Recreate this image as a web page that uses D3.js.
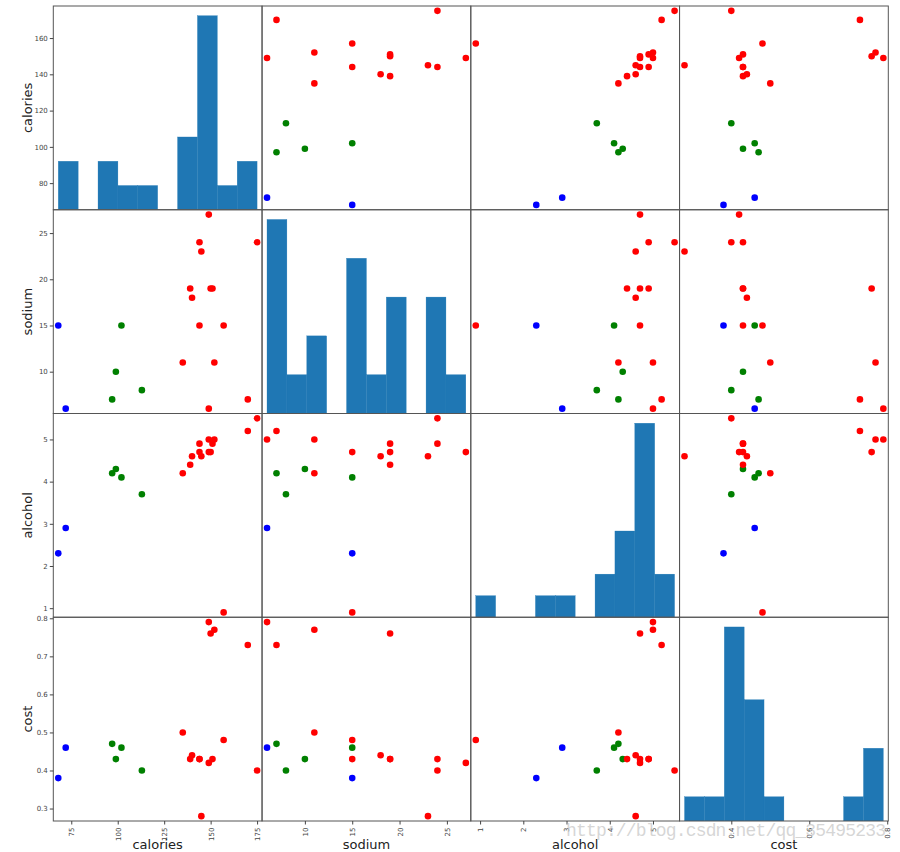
<!DOCTYPE html>
<html>
<head>
<meta charset="utf-8">
<script src="https://cdn.jsdelivr.net/npm/d3@7"></script>
<style>
  html, body { margin: 0; padding: 0; background: #fff; }
  svg { display: block; }
  .tick text { font-family: "DejaVu Sans", sans-serif; font-size: 7px; fill: #444; }
  .tick line { stroke: #444; }
  .domain { display: none; }
</style>
</head>
<body>
<svg id="chart" width="900" height="852"></svg>
<script>
// ---- data (beer dataset, 3 k-means clusters) ----
const columns = ["calories", "sodium", "alcohol", "cost"];
const calories = [144, 151, 157, 170, 152, 145, 175, 149, 99, 113, 140, 102, 135, 150, 149, 68, 139, 144, 72, 97];
const sodium   = [15, 19, 15, 7, 11, 23, 24, 27, 10, 8, 18, 15, 11, 19, 6, 15, 19, 24, 6, 7];
const alcohol  = [4.7, 4.9, 0.9, 5.2, 5.0, 4.6, 5.5, 4.7, 4.3, 3.7, 4.6, 4.1, 4.2, 4.7, 5.0, 2.3, 4.4, 4.9, 2.9, 4.2];
const cost     = [0.43, 0.43, 0.48, 0.73, 0.77, 0.28, 0.40, 0.42, 0.43, 0.40, 0.44, 0.46, 0.50, 0.76, 0.79, 0.38, 0.43, 0.43, 0.46, 0.47];
const cluster  = [0, 0, 0, 0, 0, 0, 0, 0, 1, 1, 0, 1, 0, 0, 0, 2, 0, 0, 2, 1];
const clusterColors = ["#ff0000", "#008000", "#0000ff"];

const yTicks = {
  calories: [80, 100, 120, 140, 160],
  sodium: [10, 15, 20, 25],
  alcohol: [1, 2, 3, 4, 5],
  cost: [0.3, 0.4, 0.5, 0.6, 0.7, 0.8]
};
const xTicks = {
  calories: [75, 100, 125, 150, 175],
  sodium: [10, 15, 20, 25],
  alcohol: [1, 2, 3, 4, 5],
  cost: [0.4, 0.6, 0.8]
};
const tickFormats = { calories: d3.format("d"), sodium: d3.format("d"), alcohol: d3.format("d"), cost: d3.format(".1f") };
const nBins = 10;
const watermark = "http://blog.csdn.net/qq_35495233";

// ---- layout ----
const values = { calories, sodium, alcohol, cost };
const gridLeft = 53.3, gridTop = 6, cellW = 208.75, cellH = 203.75;
const n = columns.length;
const svg = d3.select("#chart");

// domains with pandas-like range padding (0.05 / 2)
const domains = {};
columns.forEach(c => {
  const [mn, mx] = d3.extent(values[c]);
  const pad = (mx - mn) * 0.05 / 2;
  domains[c] = [mn - pad, mx + pad];
});

const defs = svg.append("defs");

columns.forEach((rowVar, i) => {
  columns.forEach((colVar, j) => {
    const x0 = gridLeft + j * cellW, y0 = gridTop + i * cellH;
    const g = svg.append("g").attr("transform", `translate(${x0},${y0})`);
    const clipId = `clip-${i}-${j}`;
    defs.append("clipPath").attr("id", clipId)
      .append("rect").attr("x", 0).attr("y", 0).attr("width", cellW).attr("height", cellH);

    const xs = d3.scaleLinear().domain(domains[colVar]).range([0, cellW]);
    const ys = d3.scaleLinear().domain(domains[rowVar]).range([cellH, 0]);
    const plot = g.append("g").attr("clip-path", `url(#${clipId})`);

    if (i === j) {
      const vals = values[colVar];
      const [mn, mx] = d3.extent(vals);
      const w = (mx - mn) / nBins;
      const counts = new Array(nBins).fill(0);
      vals.forEach(v => { counts[Math.min(nBins - 1, Math.floor((v - mn) / w + 1e-9))] += 1; });
      const bins = counts.map((c, k) => ({ x0: mn + k * w, x1: mn + (k + 1) * w, count: c }));
      const hy = d3.scaleLinear().domain([0, d3.max(counts) * 1.05]).range([cellH, 0]);
      plot.selectAll("rect.bar").data(bins.filter(b => b.count > 0)).join("rect")
        .attr("class", "bar")
        .attr("x", d => xs(d.x0))
        .attr("width", d => xs(d.x1) - xs(d.x0))
        .attr("y", d => hy(d.count))
        .attr("height", d => cellH - hy(d.count))
        .attr("fill", "#1f77b4")
        .attr("stroke", "#1f77b4")
        .attr("stroke-width", 0.3);
    } else {
      const xv = values[colVar], yv = values[rowVar];
      plot.selectAll("circle").data(d3.range(xv.length)).join("circle")
        .attr("cx", k => xs(xv[k]))
        .attr("cy", k => ys(yv[k]))
        .attr("r", 3.3)
        .attr("fill", k => clusterColors[cluster[k]]);
    }

    // frame
    g.append("rect").attr("x", 0).attr("y", 0).attr("width", cellW).attr("height", cellH)
      .attr("fill", "none").attr("stroke", "#555").attr("stroke-width", 1);

    if (j === 0) {
      g.append("g").call(
        d3.axisLeft(ys).tickValues(yTicks[rowVar]).tickFormat(tickFormats[rowVar]).tickSize(3.5).tickPadding(2));
      g.append("text")
        .attr("transform", `translate(-21,${cellH / 2}) rotate(-90)`)
        .attr("text-anchor", "middle")
        .attr("font-family", "DejaVu Sans, sans-serif")
        .attr("font-size", 13)
        .attr("fill", "#222")
        .text(rowVar);
    }
    if (i === n - 1) {
      const ax = g.append("g").attr("transform", `translate(0,${cellH})`).call(
        d3.axisBottom(xs).tickValues(xTicks[colVar]).tickFormat(tickFormats[colVar]).tickSize(3.5).tickPadding(2));
      ax.selectAll(".tick text")
        .attr("transform", "rotate(-90)")
        .attr("text-anchor", "end")
        .attr("x", -6.5)
        .attr("y", 0)
        .attr("dy", "0.35em");
      g.append("text")
        .attr("x", cellW / 2)
        .attr("y", cellH + 28)
        .attr("text-anchor", "middle")
        .attr("font-family", "DejaVu Sans, sans-serif")
        .attr("font-size", 13)
        .attr("fill", "#222")
        .text(colVar);
    }
  });
});

// watermark (present in the reference image)
svg.append("text")
  .attr("x", 566).attr("y", 836)
  .attr("font-family", "Liberation Mono, monospace")
  .attr("font-size", 18)
  .attr("textLength", 320)
  .attr("fill", "#c4c4c4")
  .attr("fill-opacity", 0.7)
  .text(watermark);
</script>
</body>
</html>
